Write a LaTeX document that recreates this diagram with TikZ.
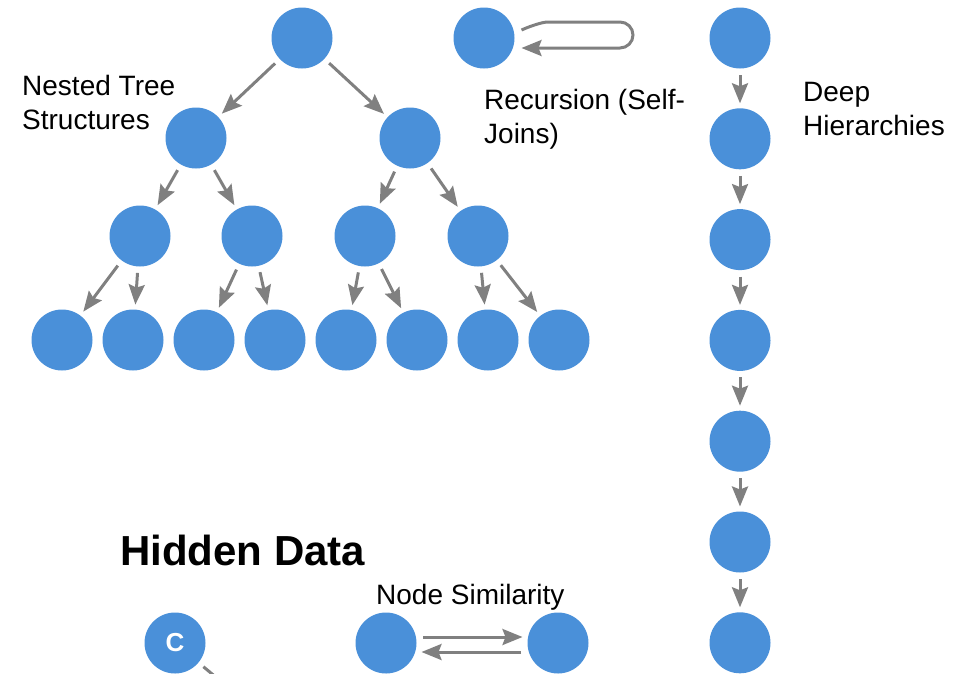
\documentclass[tikz,border=0pt]{standalone}
\usepackage{fontspec}
\setmainfont{Liberation Sans}
\usetikzlibrary{arrows.meta}
\definecolor{nodeblue}{RGB}{74,144,217}
\definecolor{arrgray}{RGB}{128,128,128}
\begin{document}
\begin{tikzpicture}[x=1pt,y=-1pt,
  dot/.style={circle,fill=nodeblue,minimum size=61pt,inner sep=0pt,outer sep=5pt},
  arr/.style={draw=arrgray,line width=3pt,shorten <=1.5pt,-{Stealth[length=20pt,width=16pt,inset=3pt]}},
  lbl/.style={font=\fontsize{28}{34}\selectfont,align=left,inner sep=0pt},
]
\useasboundingbox (0,0) rectangle (969,673);
\clip (0,0) rectangle (969,673);
% tree
\node[dot] (r) at (302,38) {};
\node[dot] (a1) at (196,138) {};
\node[dot] (a2) at (410,138) {};
\node[dot] (b1) at (140,236) {};
\node[dot] (b2) at (252,236) {};
\node[dot] (b3) at (365,236) {};
\node[dot] (b4) at (478,236) {};
\foreach \i/\x in {1/62,2/133,3/204,4/275,5/346,6/417,7/488,8/559}
  \node[dot] (c\i) at (\x,340) {};
\draw[arr] (r) -- (a1);
\draw[arr] (r) -- (a2);
\draw[arr] (a1) -- (b1);
\draw[arr] (a1) -- (b2);
\draw[arr] (a2) -- (b3);
\draw[arr] (a2) -- (b4);
\draw[arr] (b1) -- (c1);
\draw[arr] (b1) -- (c2);
\draw[arr] (b2) -- (c3);
\draw[arr] (b2) -- (c4);
\draw[arr] (b3) -- (c5);
\draw[arr] (b3) -- (c6);
\draw[arr] (b4) -- (c7);
\draw[arr] (b4) -- (c8);
% self loop
\node[dot] (s) at (484,38) {};
\draw[arr,shorten <=0pt,rounded corners=13pt] ([shift={(2,-8)}]s.east) .. controls (535,24) and (545,22) .. (560,22) -- (633,22) -- (633,48) -- ([shift={(2,10)}]s.east);
% chain
\foreach \i/\y in {1/38,2/138.8,3/239.6,4/340.4,5/441.2,6/542,7/642.8}
  \node[dot] (d\i) at (740,\y) {};
\foreach \i/\j in {1/2,2/3,3/4,4/5,5/6,6/7}
  \draw[arr] (d\i) -- (d\j);
% hidden data
\node[dot,font=\fontsize{26}{26}\selectfont\bfseries,text=white] (cn) at (175,643) {C};
\coordinate (cfree) at (260,714);
\draw[arr] (cn) -- (cfree);
% node similarity
\node[dot] (n1) at (386,643) {};
\node[dot] (n2) at (558,643) {};
\draw[arr] ([yshift=6pt]n1.east) -- ([yshift=6pt]n2.west);
\draw[arr] ([yshift=-9pt]n2.west) -- ([yshift=-9pt]n1.east);
% labels (base anchor = baseline of last line)
\node[lbl,anchor=base west] (t1) at (22,129) {Nested Tree\\Structures};
\node[lbl,anchor=base west] (t2) at (484,143) {Recursion (Self-\\Joins)};
\node[lbl,anchor=base west] (t3) at (803,135) {Deep\\Hierarchies};
\node[inner sep=0pt,anchor=base west,font=\fontsize{42}{48}\selectfont\bfseries] (t4) at (120,565) {Hidden Data};
\node[inner sep=0pt,anchor=base west,font=\fontsize{28}{32}\selectfont] (t5) at (376,604) {Node Similarity};
\end{tikzpicture}
\end{document}
